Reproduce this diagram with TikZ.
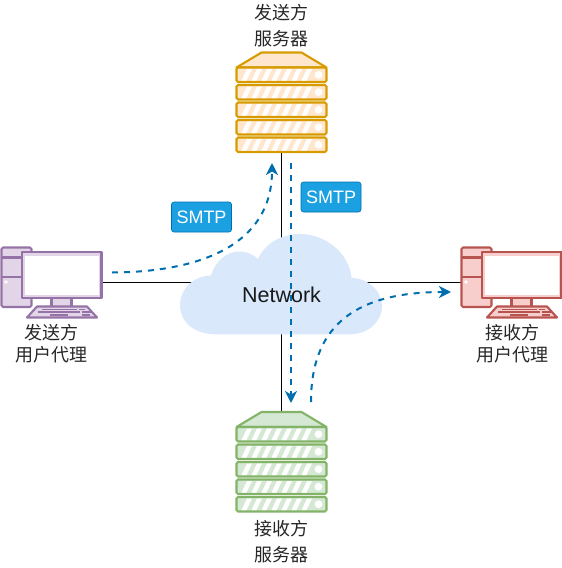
\documentclass[tikz,border=0pt]{standalone}
\usepackage{fontspec}
\setmainfont{Liberation Sans}
\newfontfamily\cjkfont{Noto Sans CJK SC}
\usetikzlibrary{arrows.meta}
\definecolor{orfill}{HTML}{FFE6CC}\definecolor{orline}{HTML}{D79B00}
\definecolor{grfill}{HTML}{D5E8D4}\definecolor{grline}{HTML}{82B366}
\definecolor{pufill}{HTML}{E1D5E7}\definecolor{puline}{HTML}{9673A6}
\definecolor{refill}{HTML}{F8CECC}\definecolor{reline}{HTML}{B85450}
\definecolor{cloudfill}{HTML}{DAE8FC}
\definecolor{boxfill}{HTML}{1BA1E2}\definecolor{flowline}{HTML}{006EAF}
\newcommand{\serverpic}[4]{% x, y of the top of the roof, fill, line
  \begin{scope}[shift={(#1,#2)}]
    \draw[draw=#4,fill=#3,line width=2.1pt,line join=round] (-45,15) -- (-20,0) -- (20,0) -- (45,15) -- cycle;
    \foreach \ry in {15,32.5,50,67.5,85}{
      \draw[draw=#4,fill=#3,line width=2.1pt,rounded corners=1.5pt] (-45,\ry) rectangle (45,\ry+14.5);
      \foreach \sx in {0,...,6}
        \fill[white] (-40+10*\sx,\ry+13) -- (-35+10*\sx,\ry+13) -- (-29.5+10*\sx,\ry+1.5) -- (-34.5+10*\sx,\ry+1.5) -- cycle;
      \fill[white] (37,\ry+7.2) circle (3.9);
    }
  \end{scope}}
\newcommand{\pcpic}[3]{% left x, fill, line
  \begin{scope}[shift={(#1,0)},draw=#3,line width=2.1pt,line join=round]
    \draw[fill=#2,rounded corners=1.5pt] (1.5,247.5) rectangle (31.5,307);
    \draw (1.5,257.5) -- (22,257.5) (1.5,277) -- (22,277);
    \fill[white] (6,282) circle (1.8);
    \draw[fill=#2] (51.5,298) rectangle (71.5,307);
    \draw[fill=#2] (37,306.5) -- (87,306.5) -- (97,317.5) -- (27,317.5) -- cycle;
    \draw[fill=#2] (22,252) rectangle (101.5,298);
    \fill[white] (25,255.5) rectangle (98.5,294.5);
    \draw[line width=1.5pt] (42,309.3) -- (77,309.3) (79,309.3) -- (85,309.3)
      (38,312.2) -- (80,312.2) (82,312.2) -- (92,312.2)
      (50,315) -- (68,315) (82,315) -- (90,315);
  \end{scope}}
\tikzset{
  tagbox/.style={draw=flowline,fill=boxfill,text=white,rounded corners=2.5pt,line width=.6pt,
    minimum width=60pt,minimum height=30pt,inner sep=0pt,font=\fontsize{18}{20}\selectfont},
  zhlabel/.style={inner sep=0pt,text=black!85,align=center,font=\cjkfont\fontsize{18}{21.5}\selectfont},
  anchorbox/.style={inner sep=0pt,minimum width=#1},
  wire/.style={draw=black,line width=.9pt},
  flow/.style={draw=flowline,line width=2pt,dash pattern=on 6pt off 6pt,
    -{Stealth[length=12pt,width=12pt,inset=3.5pt]}},
}
\begin{document}
\begin{tikzpicture}[x=1pt,y=-1pt]
\useasboundingbox (0,0) rectangle (562,568);
% anchors covering the drawn devices
\node[anchorbox=91pt,minimum height=101pt] (srvup) at (281.5,102.5) {};
\node[anchorbox=91pt,minimum height=101pt] (srvdown) at (281.5,462) {};
\node[anchorbox=80pt,minimum height=46pt] (pcleft) at (61.75,282) {};
\node[anchorbox=80pt,minimum height=46pt] (pcright) at (521.75,282) {};
% wires run behind the cloud
\draw[wire] (pcleft.east) -- (pcright.west);
\draw[wire] (srvup.south) -- (srvdown.north);
% cloud
\fill[cloudfill] (216,334.3)
  .. controls (193,334.3) and (180,321) .. (180,305)
  .. controls (180,289) and (193,276) .. (211,275.5)
  .. controls (215,261) and (227,251.5) .. (239,251.5)
  .. controls (246,251.5) and (253,254) .. (258,259)
  .. controls (265,243) and (282,234) .. (300,234)
  .. controls (327,234) and (350,255) .. (351.5,278)
  .. controls (368,278) and (382,291) .. (382,306)
  .. controls (382,322) and (368,334.3) .. (350,334.3) -- cycle;
\node[inner sep=0pt,text=black!90,font=\fontsize{21.5}{24}\selectfont] (net) at (281.5,295) {Network};
\serverpic{281.5}{52.5}{orfill}{orline}
\serverpic{281.5}{412}{grfill}{grline}
\pcpic{0}{pufill}{puline}
\pcpic{460}{refill}{reline}
% tags
\node[tagbox] (tagleft) at (201.5,217) {SMTP};
\node[tagbox] (tagright) at (331,197) {SMTP};
% labels
\node[zhlabel] (lblup) at (281,25.5) {发送方\\[4.5pt]服务器};
\node[zhlabel] (lbldown) at (281,541.5) {接收方\\[4.5pt]服务器};
\node[zhlabel] (lblleft) at (52,343.5) {发送方\\用户代理};
\node[zhlabel] (lblright) at (512,343.5) {接收方\\用户代理};
% flows
\coordinate (f1a) at (112,272.5);
\coordinate (f1b) at (272,163);
\coordinate (f2a) at (291,163);
\coordinate (f2b) at (291,403);
\coordinate (f3a) at (311,402);
\coordinate (f3b) at (451,292);
\draw[flow] (f1a) .. controls (200,272) and (272,245) .. (f1b);
\draw[flow] (f2a) -- (f2b);
\draw[flow] (f3a) .. controls (311,330) and (350,292) .. (f3b);
\end{tikzpicture}
\end{document}
